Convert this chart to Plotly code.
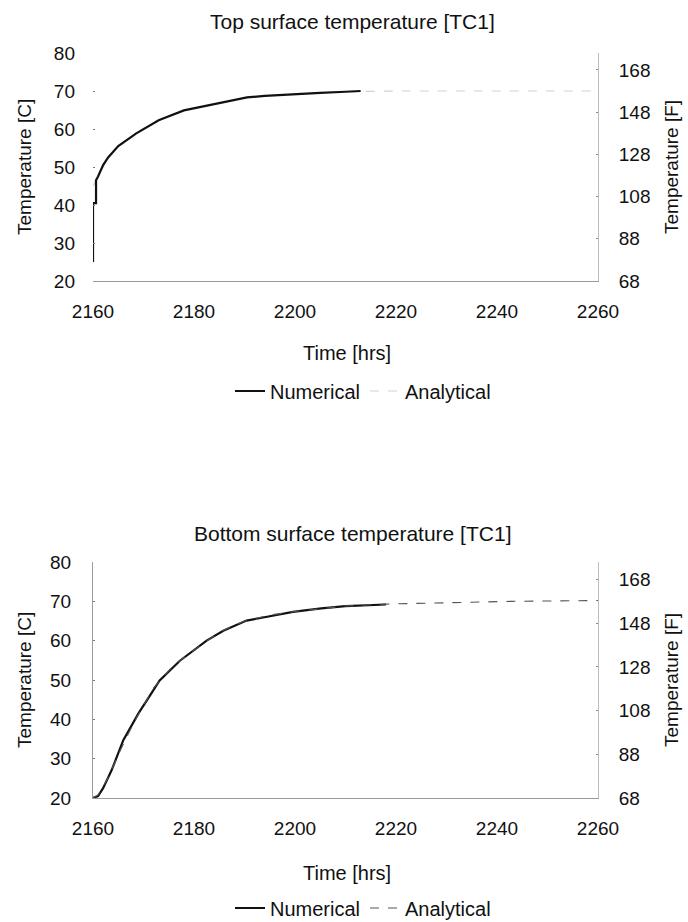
import plotly.graph_objects as go

# ---------------- data ----------------
# Top surface temperature [TC1]
top_num_time = [2160, 2160, 2160.6, 2160.6, 2161, 2162, 2163, 2165, 2168.5, 2173, 2178,
                2182, 2186, 2190.5, 2194, 2200, 2205, 2210, 2213]
top_num_temp = [25, 40.5, 40.5, 46.5, 47.5, 50.5, 52.5, 55.5, 58.8, 62.3, 64.9,
                66.0, 67.1, 68.3, 68.7, 69.2, 69.5, 69.8, 70.0]
top_ana_time = [2160, 2161, 2163, 2165, 2170, 2175, 2180, 2190, 2200, 2210, 2220, 2240, 2260]
top_ana_temp = [45.0, 47.5, 52.5, 55.5, 60.2, 63.5, 65.5, 68.2, 69.3, 69.8, 70.0, 70.0, 70.0]

# Bottom surface temperature [TC1]
bot_num_time = [2160, 2161, 2162, 2163, 2163.7, 2166, 2169, 2171.3, 2173.2, 2177.2, 2180,
                2182.5, 2185.8, 2190.4, 2193.7, 2199.6, 2205.2, 2210, 2218]
bot_num_temp = [20, 20.5, 22.5, 25, 27.1, 34.7, 41.5, 46.1, 49.9, 54.9, 57.5,
                60.0, 62.5, 65.1, 65.9, 67.3, 68.2, 68.8, 69.2]
bot_ana_time = [2160, 2161, 2162, 2163, 2165, 2168, 2172, 2176, 2180, 2185, 2190, 2195,
                2200, 2210, 2218, 2230, 2243, 2260]
bot_ana_temp = [20, 20.8, 22.8, 25.2, 31.0, 39.0, 48.0, 53.8, 57.6, 62.2, 65.0, 66.5,
                67.4, 68.8, 69.3, 69.6, 70.0, 70.2]

x_ticks = [2160, 2180, 2200, 2220, 2240, 2260]
c_ticks = [20, 30, 40, 50, 60, 70, 80]
f_ticks = [68, 88, 108, 128, 148, 168]


def c_to_f(values):
    return [v * 1.8 + 32 for v in values]


FONT = "Liberation Sans, Arial, sans-serif"
W, H = 688, 922

# pixel layout -> paper
x0, x1 = 93, 598
top_y80, top_y20 = 53, 281
bot_y80, bot_y20 = 562, 798


def py(p):
    return 1 - p / H


fig = go.Figure()

# top traces
fig.add_trace(go.Scatter(x=top_ana_time, y=top_ana_temp, mode="lines", name="Analytical",
                         line=dict(color="#d2d2d2", width=1.2, dash="dash"),
                         xaxis="x", yaxis="y", legend="legend"))
fig.add_trace(go.Scatter(x=top_num_time, y=top_num_temp, mode="lines", name="Numerical",
                         line=dict(color="#111111", width=2.2),
                         xaxis="x", yaxis="y", legend="legend"))
fig.add_trace(go.Scatter(x=top_num_time, y=c_to_f(top_num_temp), mode="lines",
                         line=dict(color="rgba(0,0,0,0)"), showlegend=False, hoverinfo="skip",
                         xaxis="x", yaxis="y2"))

# bottom traces
fig.add_trace(go.Scatter(x=bot_num_time, y=bot_num_temp, mode="lines", name="Numerical",
                         line=dict(color="#111111", width=2.2),
                         xaxis="x2", yaxis="y3", legend="legend2"))
fig.add_trace(go.Scatter(x=bot_ana_time, y=bot_ana_temp, mode="lines", name="Analytical",
                         line=dict(color="#555555", width=1.1, dash="dash"),
                         xaxis="x2", yaxis="y3", legend="legend2"))
fig.add_trace(go.Scatter(x=bot_num_time, y=c_to_f(bot_num_temp), mode="lines",
                         line=dict(color="rgba(0,0,0,0)"), showlegend=False, hoverinfo="skip",
                         xaxis="x2", yaxis="y4"))

tickfont = dict(family=FONT, size=19, color="#111111")

xcommon = dict(range=[2160, 2260], tickvals=x_ticks, showgrid=False, zeroline=False,
               showline=True, linecolor="#9a9a9a", linewidth=1, ticks="", tickfont=tickfont,
               ticklabelstandoff=13, automargin=False)
ycommon = dict(range=[20, 80], tickvals=c_ticks, showgrid=False, zeroline=False,
               ticks="inside", ticklen=2, tickcolor="#777777", tickfont=tickfont,
               ticklabelstandoff=17, automargin=False)
fcommon = dict(range=[68, 176], tickvals=f_ticks, showgrid=False, zeroline=False,
               side="right", showline=True, linecolor="#bdbdbd", linewidth=1,
               ticks="inside", ticklen=2, tickcolor="#888888", tickfont=tickfont,
               ticklabelstandoff=16, automargin=False)

legfont = dict(family=FONT, size=20, color="#111111")
fig.update_layout(
    width=W, height=H,
    margin=dict(l=0, r=0, t=0, b=0, autoexpand=False),
    paper_bgcolor="white", plot_bgcolor="white",
    font=dict(family=FONT, color="#111111"),
    xaxis=dict(domain=[x0 / W, x1 / W], anchor="y", **xcommon),
    yaxis=dict(domain=[py(top_y20), py(top_y80)], anchor="x", showline=False, **ycommon),
    yaxis2=dict(domain=[py(top_y20), py(top_y80)], anchor="x", overlaying="y", **fcommon),
    xaxis2=dict(domain=[x0 / W, x1 / W], anchor="y3", **xcommon),
    yaxis3=dict(domain=[py(bot_y20), py(bot_y80)], anchor="x2", showline=True,
                linecolor="#9a9a9a", linewidth=1, **ycommon),
    yaxis4=dict(domain=[py(bot_y20), py(bot_y80)], anchor="x2", overlaying="y3", **fcommon),
    legend=dict(orientation="h", x=363 / W, xanchor="center", y=py(391), yanchor="middle",
                font=legfont, traceorder="reversed", bgcolor="rgba(0,0,0,0)"),
    legend2=dict(orientation="h", x=363 / W, xanchor="center", y=py(908), yanchor="middle",
                 font=legfont, traceorder="normal", bgcolor="rgba(0,0,0,0)"),
    showlegend=True,
)

title_font = dict(family=FONT, size=21, color="#111111")
time_font = dict(family=FONT, size=20, color="#111111")
axt_font = dict(family=FONT, size=19, color="#111111")
annotations = [
    dict(text="Top surface temperature [TC1]", x=352 / W, y=py(21), font=title_font),
    dict(text="Bottom surface temperature [TC1]", x=352 / W, y=py(533), font=title_font),
    dict(text="Time [hrs]", x=347 / W, y=py(353), font=time_font),
    dict(text="Time [hrs]", x=347 / W, y=py(873), font=time_font),
    dict(text="Temperature [C]", x=24 / W, y=py((top_y20 + top_y80) / 2), textangle=-90, font=axt_font),
    dict(text="Temperature [F]", x=671 / W, y=py((top_y20 + top_y80) / 2), textangle=-90, font=axt_font),
    dict(text="Temperature [C]", x=24 / W, y=py((bot_y20 + bot_y80) / 2), textangle=-90, font=axt_font),
    dict(text="Temperature [F]", x=671 / W, y=py((bot_y20 + bot_y80) / 2), textangle=-90, font=axt_font),
]
for a in annotations:
    a.update(xref="paper", yref="paper", showarrow=False, xanchor="center", yanchor="middle")
fig.update_layout(annotations=annotations)

fig.write_html("out.html")
